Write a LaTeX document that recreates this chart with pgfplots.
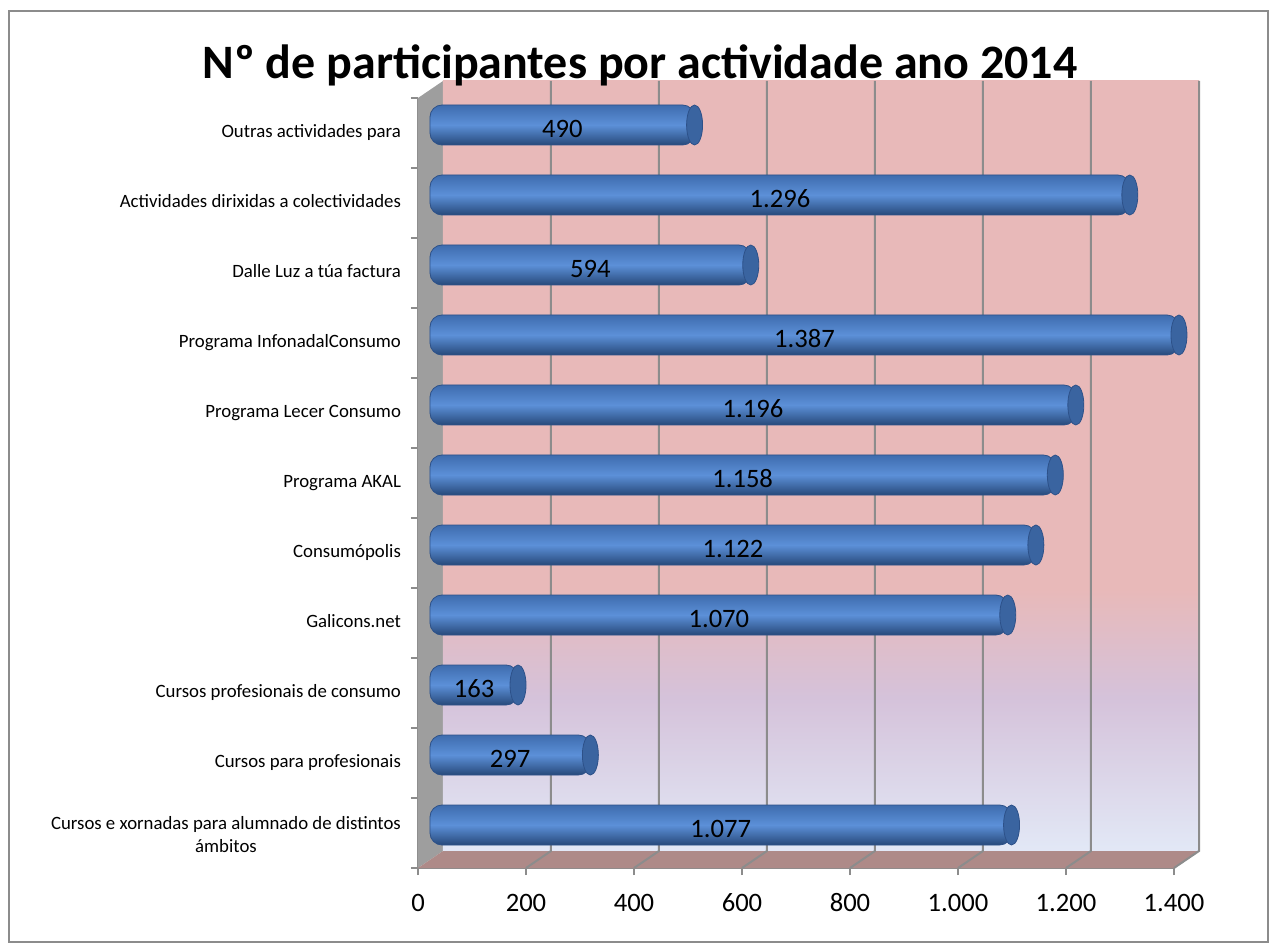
\documentclass[border=0pt]{standalone}
\usepackage{fontspec}
\setmainfont{Carlito}
\usepackage{pgfplots}
\pgfplotsset{compat=1.18}
\usepackage{pgfplotstable}

\definecolor{wallpink}{HTML}{E8B9B9}
\definecolor{walllav}{HTML}{D5C2DA}
\definecolor{wallblue}{HTML}{E2E8F6}
\definecolor{sidewall}{HTML}{9E9E9E}
\definecolor{floorc}{HTML}{AE8A88}
\definecolor{gridc}{HTML}{8C8C8C}
\definecolor{barlight}{HTML}{5C90D8}
\definecolor{bartop}{HTML}{3E6CAE}
\definecolor{barbot}{HTML}{27497A}
\definecolor{barcap}{HTML}{3A64A0}
\definecolor{baredge}{HTML}{2D5189}

\pgfdeclareverticalshading{backwall}{100bp}{color(0bp)=(wallblue); color(25bp)=(wallblue); color(35bp)=(walllav); color(42bp)=(wallpink); color(100bp)=(wallpink)}

\pgfdeclareplotmark{cap}{%
  \pgfpathellipse{\pgfpointorigin}{\pgfqpoint{4pt}{0pt}}{\pgfqpoint{0pt}{10pt}}%
  \pgfusepathqfillstroke}

% y = category (0 = bottom), v = participants
\pgfplotstableread{
y v
0 1077
1 297
2 163
3 1070
4 1122
5 1158
6 1196
7 1387
8 594
9 1296
10 490
}\datatable

\begin{document}
\begin{tikzpicture}
\useasboundingbox (-209pt,-38pt) rectangle (426pt,434pt);
\draw[gridc, line width=1pt] (-204.5pt,-37.2pt) rectangle (425pt,428.5pt);

\begin{axis}[
  at={(0,0)}, anchor=south west,
  scale only axis, width=378pt, height=385pt,
  xmin=0, xmax=1400, ymin=-0.5, ymax=10.5,
  clip=false,
  axis x line*=bottom, axis y line*=left,
  axis line style={gridc, line width=1pt},
  xtick={0,200,...,1400},
  scaled x ticks=false,
  ytick={-0.5,0.5,...,10.5},
  yticklabels={},
  extra y ticks={0,1,...,10},
  extra y tick labels={{Cursos e xornadas para alumnado de distintos\\ámbitos},
    Cursos para profesionais, Cursos profesionais de consumo, Galicons.net,
    Consumópolis, Programa AKAL, Programa Lecer Consumo, Programa InfonadalConsumo,
    Dalle Luz a túa factura, Actividades dirixidas a colectividades, Outras actividades para},
  extra y tick style={major tick length=0pt},
  tick align=outside,
  major tick length=3.5pt,
  tick style={gridc, line width=1pt},
  typeset ticklabels with strut,
  yticklabel style={font=\fontsize{9.4}{11.3}\selectfont, align=center, xshift=-5pt},
  xticklabel style={font=\fontsize{13.3}{15}\selectfont, yshift=-4pt},
  /pgf/number format/1000 sep={.},
  /pgf/number format/assume math mode=true,
]
% side wall, back wall, floor
\fill[sidewall] (axis cs:0,-0.5) -- ([shift={(12.5pt,8.5pt)}]axis cs:0,-0.5)
  -- ([shift={(12.5pt,8.5pt)}]axis cs:0,10.5) -- (axis cs:0,10.5) -- cycle;
\shade[shading=backwall] ([shift={(12.5pt,8.5pt)}]axis cs:0,-0.5)
  rectangle ([shift={(12.5pt,8.5pt)}]axis cs:1400,10.5);
\fill[floorc] (axis cs:0,-0.5) -- (axis cs:1400,-0.5)
  -- ([shift={(12.5pt,8.5pt)}]axis cs:1400,-0.5) -- ([shift={(12.5pt,8.5pt)}]axis cs:0,-0.5) -- cycle;
\pgfplotsinvokeforeach{200,400,...,1400}{
  \draw[gridc, line width=1pt] (axis cs:#1,-0.5) -- ([shift={(12.5pt,8.5pt)}]axis cs:#1,-0.5)
    -- ([shift={(12.5pt,8.5pt)}]axis cs:#1,10.5);
}

% cylinders, one plot per row so each gets its own shading
\pgfplotsinvokeforeach{0,...,10}{
  \addplot[xbar, bar width=20pt, bar shift=4pt, xshift=6pt, draw=baredge, line width=0.4pt,
    top color=bartop, bottom color=barbot, middle color=barlight, rounded corners=6pt,
    restrict y to domain=#1:#1]
    table[x=v, y=y] {\datatable};
}
\addplot[only marks, mark=cap, xshift=6pt, yshift=4pt,
  mark options={fill=barcap, draw=baredge, line width=0.4pt}]
  table[x=v, y=y] {\datatable};

% value labels, centred on each cylinder
\addplot[draw=none, mark=none, xshift=6pt, yshift=2pt, nodes near coords, point meta=explicit,
  nodes near coords style={anchor=center, font=\fontsize{13.3}{15}\selectfont, text=black}]
  table[x expr=\thisrow{v}/2, y=y, meta=v] {\datatable};
\end{axis}

\node[anchor=base, font=\bfseries\fontsize{24}{28}\selectfont] at (111pt,394.5pt)
  {Nº de participantes por actividade ano 2014};
\end{tikzpicture}
\end{document}
